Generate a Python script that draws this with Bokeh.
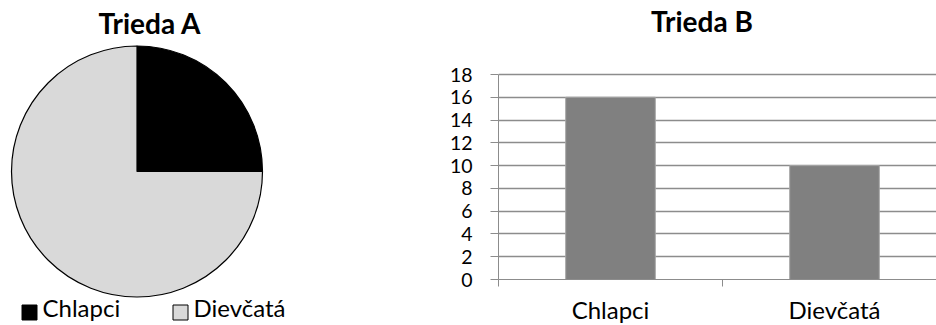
import math

from bokeh.core.properties import value
from bokeh.embed import file_html
from bokeh.layouts import row
from bokeh.models import ColumnDataSource, FixedTicker, Range1d
from bokeh.plotting import figure
from bokeh.resources import INLINE

# Trieda A (pie) and Trieda B (bars)
categories = ["Chlapci", "Dievčatá"]
class_a = [6, 18]
class_b = [16, 10]
y_ticks = [0, 2, 4, 6, 8, 10, 12, 14, 16, 18]

FONT = "Lato"
W_PIE, W_BAR, H = 420, 516, 325
pie_colors = ["#000000", "#d9d9d9"]
bar_color = "#808080"
grid_color = "#8c8c8c"


def yy(px):
    """Convert a top-down pixel row to the pie figure's y coordinate."""
    return H - px


# ---------------- pie ----------------
pie = figure(width=W_PIE, height=H, x_range=Range1d(0, W_PIE), y_range=Range1d(0, H),
             output_backend="svg", toolbar_location=None, min_border=0,
             frame_align=False)
pie.axis.visible = False
pie.grid.visible = False
pie.outline_line_color = None

total = sum(class_a)
starts, ends, acc = [], [], 0
for v in class_a:
    starts.append(math.pi / 2 - 2 * math.pi * acc / total)
    acc += v
    ends.append(math.pi / 2 - 2 * math.pi * acc / total)

pie_src = ColumnDataSource(dict(cat=categories, start=starts, end=ends, color=pie_colors))
pie.wedge(x=136.5, y=yy(171), radius=125.5, start_angle="start", end_angle="end",
          direction="clock", fill_color="color", line_color="black", line_width=1.2,
          source=pie_src)

pie.text(x=[149.5], y=[yy(22)], text=["Trieda A"], text_font=value(FONT),
         text_font_style="bold", text_font_size="28px", text_align="center",
         text_baseline="alphabetic", text_color="black")

# legend below the pie
leg_x = [29, 180]
pie.scatter(x=leg_x, y=[yy(312)] * 2, marker="square", size=15,
            fill_color=pie_colors, line_color="black", line_width=1)
pie.text(x=[x + 13 for x in leg_x], y=[yy(307)] * 2, text=categories,
         text_font=value(FONT), text_font_size="24px", text_align="left",
         text_baseline="alphabetic", text_color="black")

# ---------------- bars ----------------
# the frame reaches the top of the canvas so the heading can live inside it;
# the value axis and grid stop at 18
FRAME_W, FRAME_H, AXIS_H = W_BAR - 78, 279, 205
y_max = y_ticks[-1]
y_top = y_max * FRAME_H / AXIS_H
cat_px = 224.0
x_end = FRAME_W / cat_px


def by(px):
    """Top-down pixel row to the bar figure's value scale."""
    return y_max * (FRAME_H - px) / AXIS_H


bar = figure(frame_width=FRAME_W, frame_height=FRAME_H,
             x_range=Range1d(0, x_end), y_range=Range1d(0, y_top),
             output_backend="svg", toolbar_location=None,
             min_border_left=78, min_border_right=0, min_border_top=0,
             min_border_bottom=0, frame_align=False)
bar.outline_line_color = None
bar.background_fill_color = "white"

xs = [i + 0.5 for i in range(len(categories))]
bar.vbar(x=xs, top=class_b, width=0.4, fill_color=bar_color, line_color="#a6a6a6",
         line_width=1)

bar.text(x=[(701.5 - 498) / cat_px], y=[by(20)], text=["Trieda B"],
         text_font=value(FONT), text_font_style="bold", text_font_size="28px",
         text_align="center", text_baseline="alphabetic", text_color="black")

bar.xaxis.ticker = FixedTicker(ticks=xs, minor_ticks=list(range(len(categories) + 1)))
bar.xaxis.major_label_overrides = {x: c for x, c in zip(xs, categories)}
bar.xaxis.major_tick_out = 0
bar.xaxis.major_tick_in = 0
bar.xaxis.minor_tick_out = 7
bar.xaxis.minor_tick_in = 0
bar.xaxis.minor_tick_line_color = grid_color
bar.xaxis.major_label_standoff = 8
bar.xaxis.major_label_text_font_size = "24px"

bar.yaxis.ticker = FixedTicker(ticks=y_ticks)
bar.yaxis.bounds = (0, y_max)
bar.yaxis.major_tick_out = 8
bar.yaxis.major_tick_in = 0
bar.yaxis.minor_tick_out = 0
bar.yaxis.minor_tick_in = 0
bar.yaxis.major_label_standoff = 18
bar.yaxis.major_label_text_font_size = "19.5px"

for ax in (bar.xaxis, bar.yaxis):
    ax.axis_line_color = grid_color
    ax.major_tick_line_color = grid_color
    ax.major_label_text_font = FONT
    ax.major_label_text_color = "black"

bar.xgrid.visible = False
bar.ygrid.ticker = FixedTicker(ticks=y_ticks)
bar.ygrid.grid_line_color = grid_color
bar.ygrid.grid_line_width = 1.3

layout = row(pie, bar, spacing=0)
open("out.html", "w").write(file_html(layout, INLINE))
